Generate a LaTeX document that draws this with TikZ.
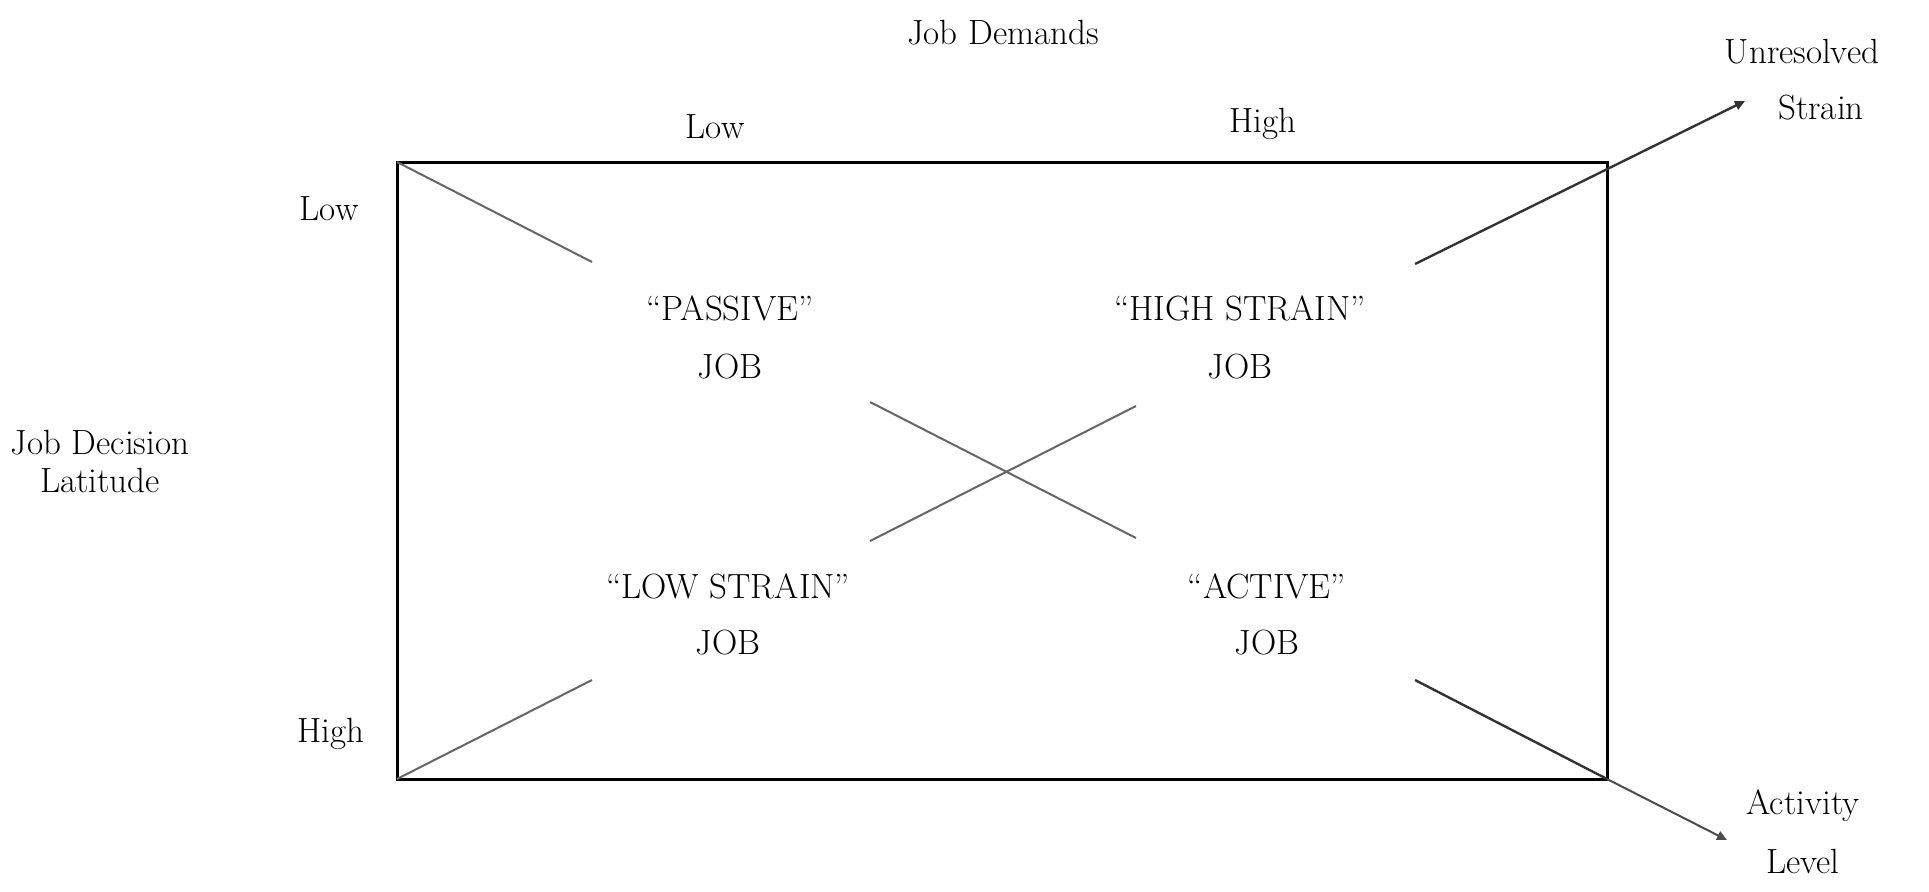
\documentclass[tikz,border=0pt]{standalone}
\usetikzlibrary{arrows.meta}
\begin{document}
\begin{tikzpicture}[x=0.5pt,y=-0.5pt,
  lbl/.style={inner sep=0pt, font=\fontsize{17.5}{21}\selectfont},
  box/.style={draw=black, line width=1.5pt},
  thin/.style={draw=black!60, line width=1pt},
  dark/.style={draw=black!80, line width=1.2pt},
  arr/.style={dark, -{Triangle[length=5pt,width=4.5pt]}}]
\useasboundingbox (0,0) rectangle (1929,891);
% frame
\coordinate (tl) at (397,162);
\coordinate (br) at (1607,779);
\coordinate (tr) at (1607,162);
\coordinate (bl) at (397,779);
\draw[box] (tl) rectangle (br);
% labels
\node[lbl] (jd) at (1003,33) {Job Demands};
\node[lbl] (lowtop) at (715,127) {Low};
\node[lbl] (hightop) at (1263,124) {High};
\node[lbl] (unres) at (1802,52) {Unresolved};
\node[lbl] (strain) at (1821,108) {Strain};
\node[lbl] (lowleft) at (329,209) {Low};
\node[lbl] (highleft) at (331,734) {High};
\node[lbl] (jdl1) at (100,443) {Job Decision};
\node[lbl] (jdl2) at (100,480) {Latitude};
\node[lbl] (passive) at (730,308) {``PASSIVE''};
\node[lbl] (passivej) at (730,367) {JOB};
\node[lbl] (hs) at (1240,308) {``HIGH STRAIN''};
\node[lbl] (hsj) at (1240,367) {JOB};
\node[lbl] (ls) at (728,586) {``LOW STRAIN''};
\node[lbl] (lsj) at (728,643) {JOB};
\node[lbl] (act) at (1267,586) {``ACTIVE''};
\node[lbl] (actj) at (1267,643) {JOB};
\node[lbl] (activity) at (1803,806) {Activity};
\node[lbl] (level) at (1803,861) {Level};
% diagonal segments
\coordinate (a1) at (592,262);
\coordinate (a2) at (592,680);
\coordinate (x1) at (870,402);
\coordinate (x2) at (1136,538);
\coordinate (x3) at (870,541);
\coordinate (x4) at (1136,406);
\coordinate (r1) at (1415,264);
\coordinate (r2) at (1745,101);
\coordinate (s1) at (1415,680);
\coordinate (s2) at (1727,840);
\draw[thin] (tl) -- (a1);
\draw[thin] (bl) -- (a2);
\draw[thin] (x1) -- (x2);
\draw[thin] (x3) -- (x4);
\draw[arr] (r1) -- (r2);
\draw[dark] (s1) -- (br);
\draw[arr, draw=black!70, line width=1pt] (br) -- (s2);
\end{tikzpicture}
\end{document}
